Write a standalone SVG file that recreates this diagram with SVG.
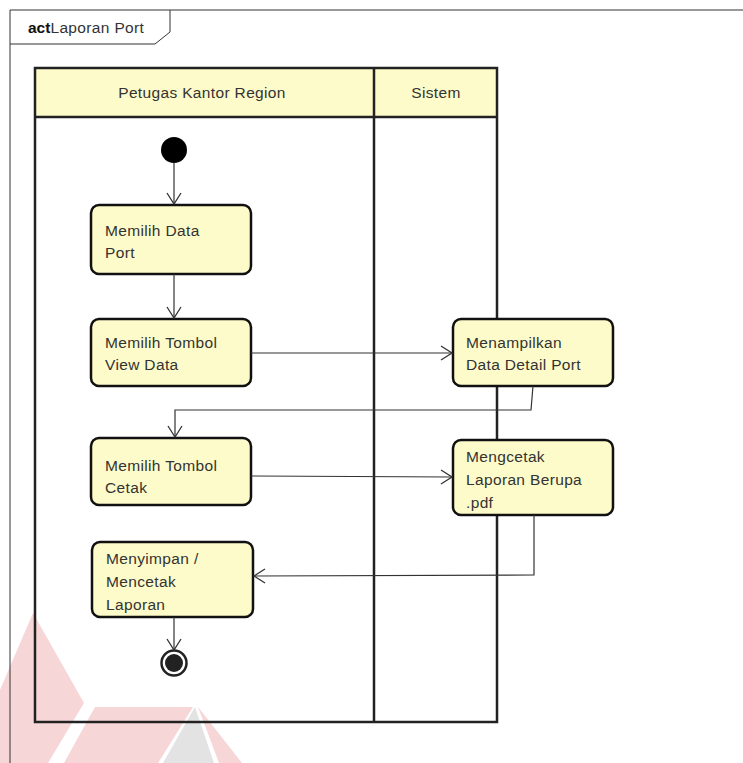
<svg xmlns="http://www.w3.org/2000/svg" width="743" height="763" viewBox="0 0 743 763">
<style>
  .t{font-family:"Liberation Sans",Arial,sans-serif;font-size:15.5px;letter-spacing:0.35px;fill:#333;}
  .box{fill:#fdfbc9;stroke:#111;stroke-width:2.5;}
  .lane{fill:none;stroke:#222;stroke-width:2.5;}
  .c{fill:none;stroke:#333;stroke-width:1.2;}
</style>
<defs>
  <marker id="a" markerWidth="14" markerHeight="16" refX="12" refY="8" orient="auto" markerUnits="userSpaceOnUse">
    <path d="M1,1 L12,8 L1,15" fill="none" stroke="#333" stroke-width="1.3"/>
  </marker>
</defs>
<rect width="743" height="763" fill="#fff"/>
<g id="watermark" opacity="0.2">
  <polygon points="33,613 84,703 48,763 0,763 0,690" fill="#d9363e"/>
  <polygon points="95,707 193,707 158,763 64,763" fill="#d9363e"/>
  <polygon points="195,707 163,763 214,763" fill="#777"/>
  <polygon points="198,707 219,763 242,763" fill="#d9363e"/>
</g>
<g id="frame">
  <path d="M10,763 L10,10 L743,10" fill="none" stroke="#333" stroke-width="1"/>
  <path d="M10,44 L155,44 L170,32 L170,10" fill="none" stroke="#333" stroke-width="1"/>
  <text x="28" y="33" class="t"><tspan font-weight="bold" fill="#111" style="letter-spacing:0">act</tspan>Laporan Port</text>
</g>
<g id="lanes">
  <rect x="35" y="68" width="462" height="49" fill="#fdfbc9"/>
  <rect x="35" y="68" width="462" height="654" class="lane"/>
  <line x1="35" y1="117" x2="497" y2="117" class="lane"/>
  <line x1="374" y1="68" x2="374" y2="722" class="lane"/>
  <text x="202" y="98" class="t" text-anchor="middle">Petugas Kantor Region</text>
  <text x="436" y="98" class="t" text-anchor="middle">Sistem</text>
</g>
<g id="start"><circle cx="174" cy="150" r="13" fill="#000"/></g>
<g id="n1">
  <rect x="91" y="205" width="160" height="69" rx="8" class="box"/>
  <text class="t" x="105" y="236">Memilih Data</text>
  <text class="t" x="105" y="258">Port</text>
</g>
<g id="n2">
  <rect x="91" y="319" width="160" height="67" rx="8" class="box"/>
  <text class="t" x="105" y="348">Memilih Tombol</text>
  <text class="t" x="105" y="370">View Data</text>
</g>
<g id="n3">
  <rect x="453" y="319" width="160" height="67" rx="8" class="box"/>
  <text class="t" x="466" y="348">Menampilkan</text>
  <text class="t" x="466" y="370">Data Detail Port</text>
</g>
<g id="n4">
  <rect x="91" y="438" width="160" height="67" rx="8" class="box"/>
  <text class="t" x="105" y="471">Memilih Tombol</text>
  <text class="t" x="105" y="493">Cetak</text>
</g>
<g id="n5">
  <rect x="453" y="440" width="160" height="75" rx="8" class="box"/>
  <text class="t" x="466" y="462">Mengcetak</text>
  <text class="t" x="466" y="485">Laporan Berupa</text>
  <text class="t" x="466" y="508">.pdf</text>
</g>
<g id="n6">
  <rect x="92" y="542" width="161" height="75" rx="8" class="box"/>
  <text class="t" x="106" y="564">Menyimpan /</text>
  <text class="t" x="106" y="587">Mencetak</text>
  <text class="t" x="106" y="610">Laporan</text>
</g>
<g id="end">
  <circle cx="174" cy="663" r="12.5" fill="#fff" stroke="#222" stroke-width="2.5"/>
  <circle cx="174" cy="663" r="9" fill="#222"/>
</g>
<g id="connectors">
  <line x1="174" y1="163" x2="174" y2="204" class="c" marker-end="url(#a)"/>
  <line x1="174" y1="274" x2="174" y2="318" class="c" marker-end="url(#a)"/>
  <line x1="251" y1="353" x2="452" y2="353" class="c" marker-end="url(#a)"/>
  <polyline points="533,386 531,410 175,410 175,437" class="c" marker-end="url(#a)"/>
  <line x1="251" y1="476" x2="452" y2="477" class="c" marker-end="url(#a)"/>
  <polyline points="534,515 534,575 254,576" class="c" marker-end="url(#a)"/>
  <line x1="174" y1="617" x2="174" y2="650" class="c" marker-end="url(#a)"/>
</g>
</svg>
